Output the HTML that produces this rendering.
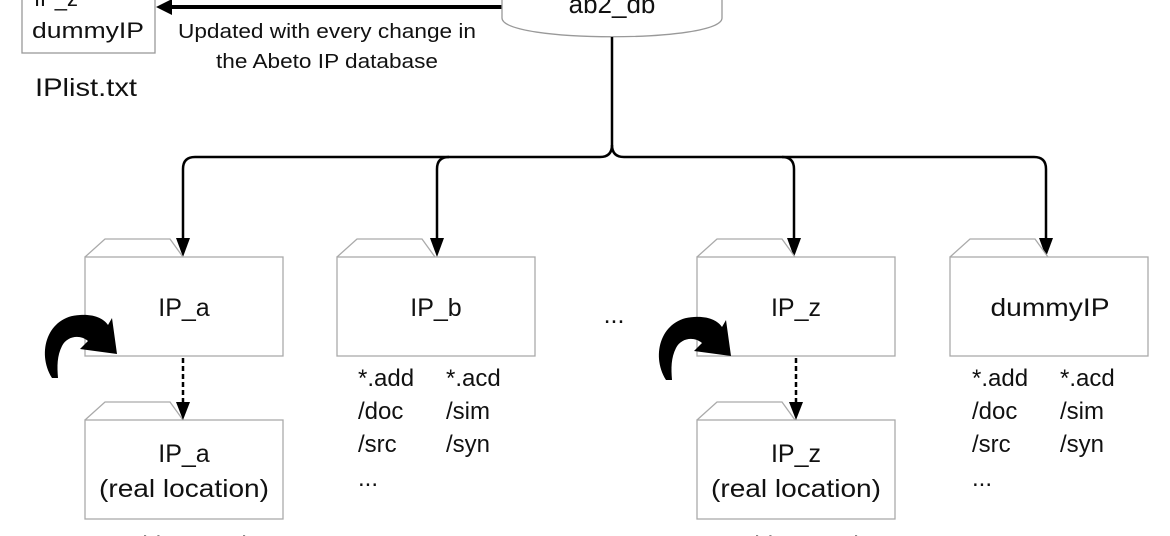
<!DOCTYPE html>
<html><head><meta charset="utf-8"><style>
html,body{margin:0;padding:0;background:#fff;}
svg{display:block;}
text{font-family:"Liberation Sans",sans-serif;fill:#111;}
</style></head><body>
<svg width="1170" height="536" viewBox="0 0 1170 536" xmlns="http://www.w3.org/2000/svg">
<defs>
<g id="folder">
<path d="M0,18 L20,0 L85,0 L98,18" fill="#fff" stroke="#aaa" stroke-width="1.3"/>
<rect x="0" y="18" width="198" height="99" fill="#fff" stroke="#aaa" stroke-width="1.3"/>
</g>
<path id="curl" d="M52,378 C36,352 48,316 80,315 C95,314 104,319 108,325 L112,318 L117,354 L80,349 L88,341 C80,334 67,336 62,346 C57,356 57,366 58,378 Z" fill="#000"/>
</defs>

<!-- IPlist box -->
<rect x="22" y="-10" width="133" height="63" fill="#fff" stroke="#999" stroke-width="1.3"/>
<text x="34" y="6" font-size="22">IP_z</text>
<text x="88" y="38" font-size="22" text-anchor="middle" textLength="112" lengthAdjust="spacingAndGlyphs">dummyIP</text>
<text x="35" y="96" font-size="25" textLength="102" lengthAdjust="spacingAndGlyphs">IPlist.txt</text>

<!-- top arrow -->
<line x1="503" y1="7" x2="170" y2="7" stroke="#000" stroke-width="4"/>
<polygon points="156,7 172,-1 172,15" fill="#000"/>
<text x="327" y="38" font-size="20" text-anchor="middle" textLength="298" lengthAdjust="spacingAndGlyphs">Updated with every change in</text>
<text x="327" y="68" font-size="20" text-anchor="middle" textLength="222" lengthAdjust="spacingAndGlyphs">the Abeto IP database</text>

<!-- ab2_db cylinder bottom -->
<path d="M502,-2 L502,18 C502,43 722,43 722,18 L722,-2" fill="#fff" stroke="#999" stroke-width="1.3"/>
<text x="612" y="13" font-size="26" text-anchor="middle">ab2_db</text>

<!-- tree -->
<g fill="none" stroke="#000" stroke-width="2.5">
<path d="M612,37 L612,145 Q612,157 600,157 L195,157 Q183,157 183,169 L183,240"/>
<path d="M612,145 Q612,157 624,157 L1034,157 Q1046,157 1046,169 L1046,240"/>
<path d="M437,169 Q437,157 449,157"/>
<path d="M437,169 L437,240"/>
<path d="M782,157 Q794,157 794,169 L794,240"/>
</g>
<g fill="#000">
<polygon points="183,257 176,238 190,238"/>
<polygon points="437,257 430,238 444,238"/>
<polygon points="794,257 787,238 801,238"/>
<polygon points="1046,257 1039,238 1053,238"/>
</g>

<!-- folders -->
<use href="#folder" x="85" y="239"/>
<use href="#folder" x="337" y="239"/>
<use href="#folder" x="697" y="239"/>
<use href="#folder" x="950" y="239"/>
<use href="#folder" x="85" y="402"/>
<use href="#folder" x="697" y="402"/>

<g font-size="25" text-anchor="middle">
<text x="184" y="316">IP_a</text>
<text x="436" y="316">IP_b</text>
<text x="796" y="316">IP_z</text>
<text x="1050" y="316" textLength="119" lengthAdjust="spacingAndGlyphs">dummyIP</text>
<text x="614" y="323">...</text>
<text x="184" y="462">IP_a</text>
<text x="184" y="497" textLength="170" lengthAdjust="spacingAndGlyphs">(real location)</text>
<text x="796" y="462">IP_z</text>
<text x="796" y="497" textLength="170" lengthAdjust="spacingAndGlyphs">(real location)</text>
</g>

<!-- dashed arrows -->
<g stroke="#000" stroke-width="2.5" stroke-dasharray="5,3">
<line x1="183" y1="358" x2="183" y2="405"/>
<line x1="796" y1="358" x2="796" y2="405"/>
</g>
<polygon points="183,420 176,402 190,402" fill="#000"/>
<polygon points="796,420 789,402 803,402" fill="#000"/>

<!-- curved arrows -->
<use href="#curl"/>
<use href="#curl" x="614" y="2"/>

<!-- lists -->
<g font-size="24">
<text x="358" y="386">*.add</text><text x="446" y="386">*.acd</text>
<text x="358" y="419">/doc</text><text x="446" y="419">/sim</text>
<text x="358" y="452">/src</text><text x="446" y="452">/syn</text>
<text x="358" y="486">...</text>
<text x="972" y="386">*.add</text><text x="1060" y="386">*.acd</text>
<text x="972" y="419">/doc</text><text x="1060" y="419">/sim</text>
<text x="972" y="452">/src</text><text x="1060" y="452">/syn</text>
<text x="972" y="486">...</text>
<text x="105" y="553">*.add</text><text x="192" y="553">*.acd</text>
<text x="717" y="553">*.add</text><text x="804" y="553">*.acd</text>
</g>
</svg>
</body></html>
